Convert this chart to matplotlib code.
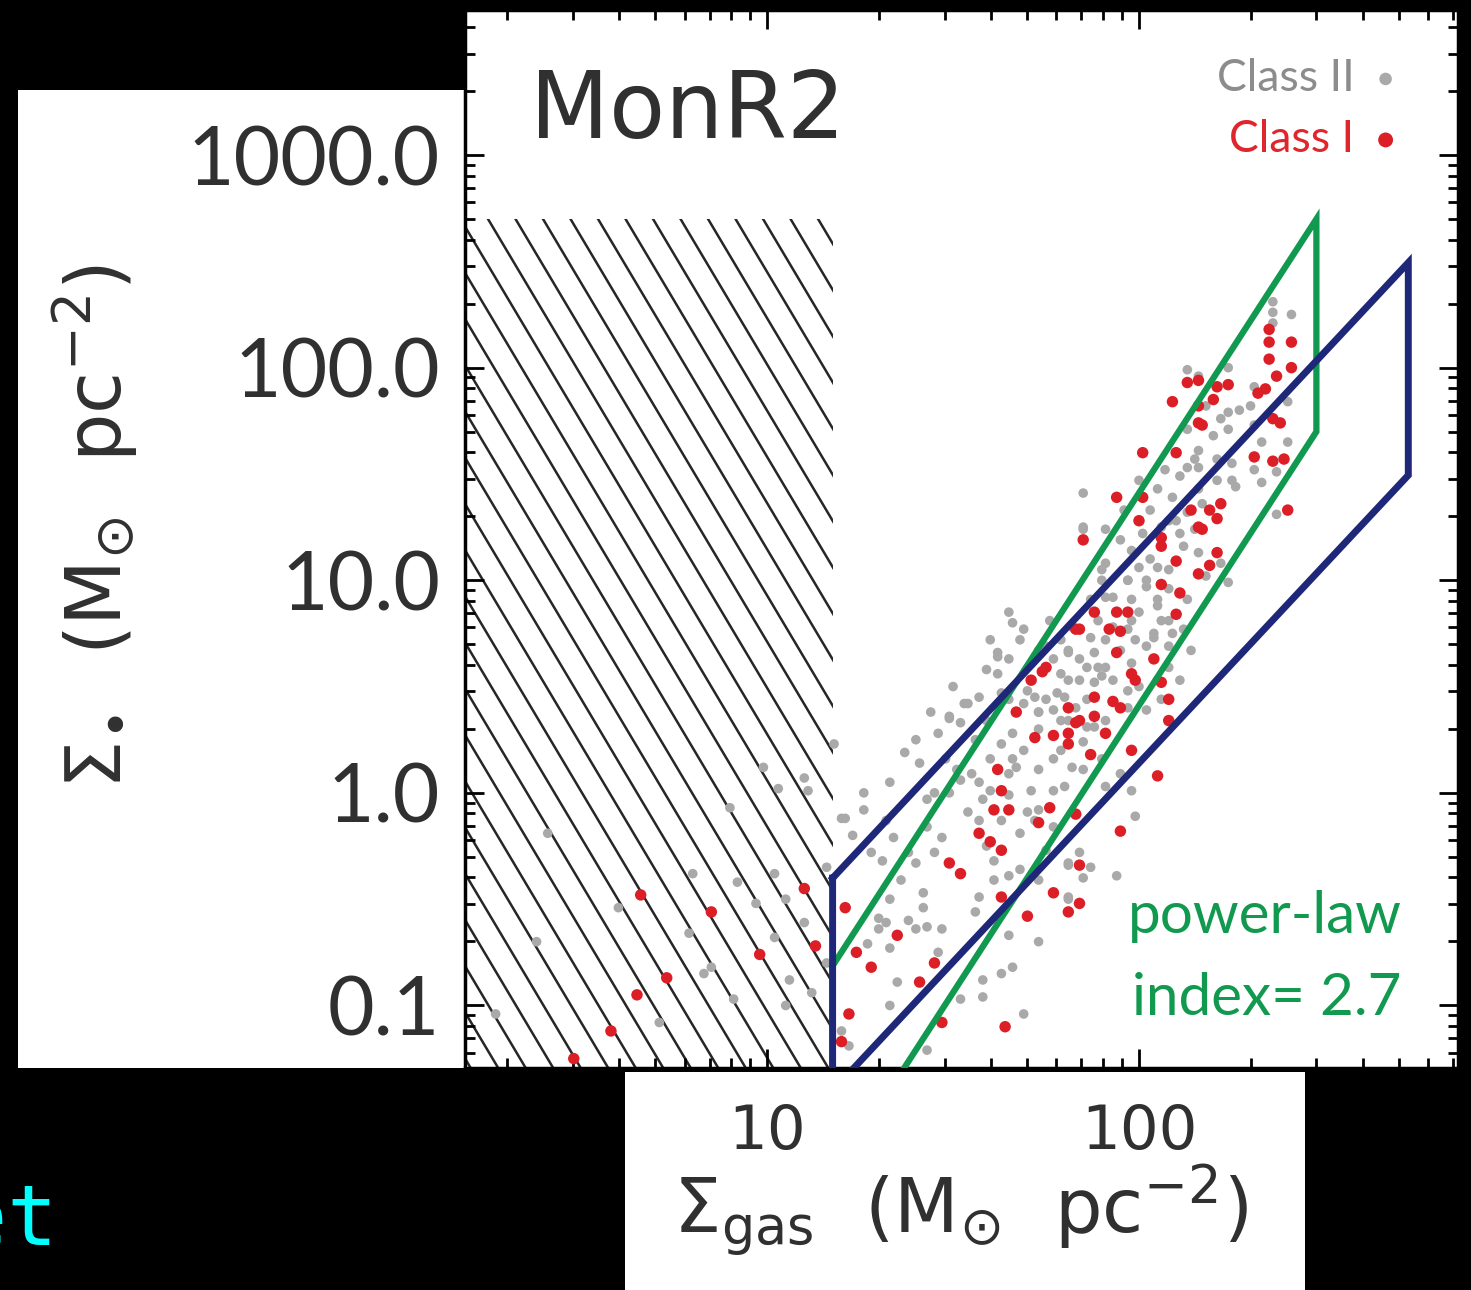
import numpy as np
import matplotlib
matplotlib.use("Agg")
import matplotlib.pyplot as plt
from matplotlib.patches import Rectangle
from matplotlib.collections import LineCollection
from matplotlib.ticker import FixedLocator, FixedFormatter, LogLocator, NullFormatter

plt.rcParams['mathtext.fontset'] = 'dejavusans'

W, H = 1471, 1290

# axis ranges and ticks
gas_lim = (1.54, 721.0)
star_lim = (0.0508, 4810.0)
xtick_vals = [10, 100]
xtick_labels = ["10", "100"]
ytick_vals = [0.1, 1, 10, 100, 1000]
ytick_labels = ["0.1", "1.0", "10.0", "100.0", "1000.0"]

# incompleteness region (hatched)
hatch_gas_max = 15.0
hatch_star_max = 500.0

# power-law bands: gas range, index, top value at right end, band width factor
green_gas = (15.0, 300.0)
green_index = 2.7
green_top = 500.0
blue_gas = (15.0, 530.0)
blue_index = 1.87
blue_top = 312.0
band_factor = 10.0

# YSO surface densities, (log10 gas, log10 star)
class2_log = [
    (1.18, 0.23), (0.99, 0.12), (1.03, 0.02), (1.10, 0.07), (1.11, 0.01), (0.90, -0.07),
    (1.20, -0.12), (0.41, -0.19), (1.16, -0.35), (1.02, -0.38), (0.80, -0.38), (0.92, -0.42),
    (1.05, -0.50), (0.97, -0.52), (0.60, -0.54), (1.10, -0.61), (0.79, -0.66), (1.02, -0.68),
    (0.38, -0.70), (0.85, -0.82), (0.83, -0.85), (1.06, -0.88), (1.12, -0.94), (0.91, -0.97),
    (1.05, -1.00), (0.27, -1.04), (0.71, -1.08), (1.16, -0.80),
    (1.65, 0.85), (1.66, 0.80), (1.69, 0.77), (1.60, 0.72), (1.62, 0.64), (1.65, 0.63),
    (1.59, 0.58), (1.50, 0.50), (1.62, 0.56), (1.57, 0.45), (1.54, 0.42), (1.44, 0.38),
    (1.49, 0.36), (1.52, 0.33), (1.46, 0.28), (1.40, 0.25), (1.37, 0.19), (1.41, 0.14),
    (1.51, 0.11), (1.55, 0.09), (1.57, 0.05), (1.33, 0.05), (1.26, 0.00), (1.45, 0.00),
    (1.49, 0.00), (1.43, -0.03), (1.26, -0.08), (1.21, -0.12), (1.54, -0.09), (1.58, -0.03),
    (1.57, -0.13), (1.32, -0.13), (1.43, -0.16), (1.23, -0.20), (1.34, -0.21), (1.47, -0.21),
    (1.28, -0.28), (1.31, -0.32), (1.38, -0.28), (1.40, -0.33), (1.45, -0.28), (1.61, -0.32),
    (1.36, -0.41), (1.61, -0.41), (1.65, -0.39), (1.42, -0.47), (1.33, -0.50), (1.42, -0.54),
    (1.57, -0.49), (1.56, -0.56), (1.30, -0.59), (1.32, -0.61), (1.38, -0.60), (1.40, -0.64),
    (1.43, -0.63), (1.47, -0.64), (1.30, -0.64), (1.65, -0.67), (1.73, -0.70), (1.27, -0.71),
    (1.33, -0.73), (1.46, -0.75), (1.63, -0.85), (1.66, -0.82), (1.35, -0.89), (1.58, -0.88),
    (1.52, -0.97), (1.58, -0.96), (1.33, -1.00), (1.69, -1.04), (1.20, -1.12), (1.22, -1.19),
    (1.43, -1.21),
    (1.69, 0.42), (1.73, 0.38), (1.77, 0.39), (1.81, 0.34), (1.66, 0.16), (1.67, 0.12),
    (1.65, 0.09), (1.70, -0.09), (1.72, -0.13), (1.77, 0.16), (1.77, 0.01), (1.81, -0.33),
    (1.81, -0.49), (1.73, -0.08), (1.68, -0.19), (1.63, -0.13), (1.59, -0.25), (1.77, -0.16),
    (1.75, 0.69), (1.77, 0.63),
    (2.36, 2.31), (2.36, 2.26), (2.41, 2.25), (2.36, 2.21), (2.13, 1.99), (2.16, 1.96),
    (2.24, 2.00), (2.31, 1.91), (2.30, 1.82), (2.24, 1.79), (2.20, 1.68), (2.24, 1.71),
    (2.40, 1.84), (2.40, 1.65), (2.33, 1.65), (2.37, 1.51), (2.31, 1.52), (2.25, 1.47),
    (2.33, 1.46), (2.26, 1.44), (2.21, 1.47), (2.16, 1.61), (2.15, 1.57), (2.13, 1.53),
    (2.11, 1.49), (2.16, 1.53), (1.85, 1.41), (2.05, 1.43), (2.09, 1.39), (2.16, 1.43),
    (2.17, 1.36), (2.13, 1.32), (2.03, 1.33), (2.08, 1.28), (2.37, 1.31), (1.85, 1.25),
    (2.01, 1.22), (2.06, 1.25), (2.11, 1.22), (1.95, 1.19), (2.12, 1.16), (2.16, 1.13),
    (1.98, 1.14), (1.90, 1.05), (2.00, 1.06), (2.05, 1.06), (2.08, 1.05), (1.97, 1.00),
    (2.02, 0.97), (2.08, 0.96), (2.24, 0.99), (1.91, 0.92), (1.87, 0.91), (1.98, 0.91),
    (2.05, 0.91), (2.13, 0.91), (2.18, 1.02), (2.22, 1.08), (2.25, 1.55), (2.22, 1.76),
    (2.18, 1.82),
    (1.85, 1.24), (1.62, 0.66), (1.53, 0.42), (1.49, 0.35), (1.88, 0.66), (1.91, 0.72),
    (1.86, 0.59), (1.81, 0.66), (1.97, 0.77), (2.00, 0.85), (2.05, 0.88), (2.04, 0.75),
    (2.09, 0.75), (1.98, 0.61), (2.02, 0.69), (2.08, 0.69), (1.88, 0.52), (1.84, 0.53),
    (1.81, 0.53), (1.78, 0.47), (1.75, 0.44), (1.72, 0.45), (1.73, 0.38), (1.86, 0.44),
    (1.93, 0.53), (2.00, 0.50), (2.05, 0.53), (2.08, 0.59), (1.97, 0.40), (2.02, 0.39),
    (1.91, 0.34), (1.86, 0.31), (1.79, 0.34), (1.73, 0.30), (2.06, 0.44), (2.02, 1.00),
    (1.97, 1.00), (1.93, 0.92), (1.91, 1.08), (1.90, 1.00), (1.93, 0.78), (1.87, 0.73),
    (1.91, 0.59), (1.79, 0.56), (1.83, 0.40), (1.68, 0.72),
    (1.98, 0.01), (1.99, -0.11), (1.84, -0.28), (1.81, -0.34), (1.87, -0.35), (1.85, -0.40),
    (1.94, -0.39), (1.81, -0.50), (1.81, 0.67), (1.84, 0.63), (1.89, 0.59), (1.90, 0.55),
    (1.80, 0.45), (1.99, 0.72), (2.04, 0.73), (1.98, 0.81), (2.06, 0.81), (2.12, 0.77),
    (1.90, 0.16), (1.85, 0.24), (1.95, 0.09), (1.91, 0.03), (1.88, 0.31), (1.82, 0.12),
    (1.80, 0.03),
    (1.63, 0.47), (1.65, 0.44), (1.70, 0.48), (1.79, 0.72), (1.82, 0.78), (1.76, 0.81),
    (1.73, 0.67), (1.95, 0.67), (1.89, 0.81), (1.97, 0.48), (1.66, 0.28), (1.63, 0.23),
    (1.60, 0.16), (1.56, 0.25), (1.69, 0.20), (1.73, 0.11), (1.79, 0.20), (1.85, 0.11),
    (1.71, 0.01), (1.65, -0.01), (1.60, 0.01), (1.75, -0.27), (1.68, -0.36), (1.73, -0.41),
    (1.52, 0.06), (1.48, 0.16), (1.59, 0.34), (2.03, 1.10), (2.10, 1.28), (2.15, 1.24),
    (2.21, 1.57), (2.27, 1.80), (2.31, 1.73), (2.13, 1.71), (2.07, 1.52), (2.00, 1.47),
    (1.96, 1.33), (1.91, 1.24), (2.08, 0.81), (2.14, 0.67), (2.11, 0.53),
]

class1_log = [
    (0.66, -0.48), (0.85, -0.56), (1.10, -0.45), (1.13, -0.72), (0.98, -0.76), (0.73, -0.87),
    (0.65, -0.95), (0.58, -1.12), (0.48, -1.25),
    (1.83, 0.77), (1.75, 0.59), (1.71, 0.53), (1.67, 0.38), (1.81, 0.40), (1.83, 0.33),
    (1.72, 0.26), (1.77, 0.27), (1.81, 0.28), (1.81, 0.23), (1.62, 0.11), (1.63, 0.01),
    (1.61, -0.08), (1.65, -0.08), (1.76, -0.07), (1.73, -0.14), (1.57, -0.19), (1.60, -0.23),
    (1.63, -0.27), (1.83, -0.10), (1.49, -0.33), (1.52, -0.38), (1.63, -0.49), (1.77, -0.47),
    (1.81, -0.56), (1.70, -0.58), (1.21, -0.54), (1.35, -0.67), (1.24, -0.75), (1.28, -0.82),
    (1.45, -0.80), (1.41, -0.89), (1.22, -1.04), (1.47, -1.08), (1.64, -1.10), (1.20, -1.17),
    (2.35, 2.18), (2.35, 2.12), (2.41, 2.12), (2.35, 2.04), (2.41, 2.00), (2.37, 1.96),
    (2.34, 1.90), (2.32, 1.88), (2.13, 1.93), (2.16, 1.94), (2.21, 1.91), (2.24, 1.92),
    (2.09, 1.84), (2.20, 1.85), (2.16, 1.82), (2.16, 1.74), (2.17, 1.73), (2.36, 1.76),
    (2.38, 1.74), (2.01, 1.60), (2.10, 1.60), (2.31, 1.58), (2.36, 1.56), (2.39, 1.57),
    (1.94, 1.39), (2.01, 1.39), (2.14, 1.33), (2.19, 1.33), (2.22, 1.36), (2.21, 1.29),
    (2.40, 1.33), (2.00, 1.28), (2.16, 1.25), (2.17, 1.24), (1.85, 1.19), (2.06, 1.20),
    (2.06, 1.16), (2.21, 1.13), (2.10, 1.09), (2.19, 1.07), (2.16, 1.03), (2.06, 0.98),
    (2.11, 0.94),
    (1.88, 0.85), (1.94, 0.85), (1.97, 0.85), (1.84, 0.77), (1.92, 0.77), (1.95, 0.76),
    (2.10, 0.84), (1.94, 0.66), (1.74, 0.57), (1.98, 0.56), (1.99, 0.53), (2.04, 0.63),
    (2.06, 0.52), (2.08, 0.44), (1.88, 0.45), (1.93, 0.43), (1.95, 0.40), (1.88, 0.36),
    (1.84, 0.34), (2.08, 0.34),
    (1.91, 0.28), (1.98, 0.20), (1.87, 0.18), (2.05, 0.08), (1.95, -0.18), (1.84, -0.34),
    (1.84, -0.52),
]

grey = '#a9a9a9'
red = '#dc1f26'
green = '#10994f'
navy = '#1f2878'
ink = '#303030'


def fig_box(x0, y0, x1, y1):
    return [x0 / W, 1 - y1 / H, (x1 - x0) / W, (y1 - y0) / H]


def band(gas, index, top, factor):
    lo, hi = gas
    t_lo = top * (lo / hi) ** index
    xs = [lo, hi, hi, lo, lo]
    ys = [t_lo, top, top / factor, t_lo / factor, t_lo]
    return xs, ys


fig = plt.figure(figsize=(W / 100, H / 100), dpi=100, facecolor='black')

# pasted white panels behind the axis labels
for box in [(18, 90, 465, 1068), (625, 1072, 1305, 1290)]:
    l, b, w, h = fig_box(*box)
    fig.patches.append(Rectangle((l, b), w, h, transform=fig.transFigure, facecolor='white',
                                 edgecolor='none', zorder=-1))

ax = fig.add_axes(fig_box(465, 10, 1458, 1068))
ax.set_facecolor('white')
ax.set_xscale('log')
ax.set_yscale('log')
ax.set_xlim(*gas_lim)
ax.set_ylim(*star_lim)

# hatched incompleteness region
top_frac = ax.transAxes.inverted().transform(ax.transData.transform((10, hatch_star_max)))[1]
slope = 1.577
segs = []
for xc in np.arange(0.0232 - 0.0277 * 30, 0.6, 0.0277):
    segs.append([(xc - (1.05 - top_frac) / slope, 1.05), (xc + (top_frac + 0.05) / slope, -0.05)])
lc = LineCollection(segs, colors='#262626', linewidths=1.8, transform=ax.transAxes, zorder=1)
ax.add_collection(lc, autolim=False)
clip = Rectangle((gas_lim[0], star_lim[0]), hatch_gas_max - gas_lim[0],
                 hatch_star_max - star_lim[0], transform=ax.transData,
                 fill=False, linewidth=0)
lc.set_clip_path(clip)

c2 = 10 ** np.array(class2_log)
c1 = 10 ** np.array(class1_log)
ax.scatter(c2[:, 0], c2[:, 1], s=48, c=grey, edgecolors='none', zorder=3, label='Class II')
ax.scatter(c1[:, 0], c1[:, 1], s=68, c=red, edgecolors='none', zorder=4, label='Class I')

gx, gy = band(green_gas, green_index, green_top, band_factor)
ax.plot(gx, gy, color=green, lw=4.5, zorder=5, solid_joinstyle='miter')
bx, by = band(blue_gas, blue_index, blue_top, band_factor)
ax.plot(bx, by, color=navy, lw=5, zorder=6, solid_joinstyle='miter')
ax.set_xlim(*gas_lim)
ax.set_ylim(*star_lim)

# ticks
ax.xaxis.set_major_locator(FixedLocator(xtick_vals))
ax.xaxis.set_major_formatter(FixedFormatter(xtick_labels))
ax.yaxis.set_major_locator(FixedLocator(ytick_vals))
ax.yaxis.set_major_formatter(FixedFormatter(ytick_labels))
for axis in (ax.xaxis, ax.yaxis):
    axis.set_minor_locator(LogLocator(base=10, subs=np.arange(2, 10), numticks=20))
    axis.set_minor_formatter(NullFormatter())
ax.tick_params(which='both', direction='in', top=True, right=True, width=2, color='black')
ax.tick_params(which='major', length=14)
ax.tick_params(which='minor', length=7)
ax.tick_params(axis='y', labelsize=58, pad=18, labelcolor=ink)
ax.tick_params(axis='x', labelsize=44, pad=25, labelcolor=ink)
for lab in ax.get_yticklabels():
    lab.set_fontfamily('Lato')
for lab in ax.get_xticklabels():
    lab.set_fontfamily('DejaVu Sans')
for sp in ax.spines.values():
    sp.set_linewidth(2.5)
    sp.set_color('black')

ax.text(0.0655, 0.946, 'MonR2', transform=ax.transAxes, fontsize=66, color=ink,
        ha='left', va='top')

leg = ax.legend(loc='upper right', bbox_to_anchor=(0.945, 0.955), markerfirst=False,
                frameon=False, prop={'family': 'Lato', 'size': 32}, handletextpad=0.3,
                labelspacing=0.45, handlelength=0.8, borderaxespad=0, borderpad=0,
                markerscale=1.3)
for txt, col in zip(leg.get_texts(), ['#8c8c8c', '#e0262d']):
    txt.set_color(col)

ax.text(0.668, 0.1276, 'power-law', transform=ax.transAxes, fontsize=42, color=green,
        family='Lato', ha='left', va='baseline')
ax.text(0.672, 0.0501, 'index= 2.7', transform=ax.transAxes, fontsize=42, color=green,
        family='Lato', ha='left', va='baseline')

fig.text(95 / W, 1 - 527 / H, r'$\Sigma_{\bullet}\ \ (\mathrm{M}_{\odot}\ \ \mathrm{pc}^{-2})$',
         rotation=90, fontsize=55, color=ink, ha='center', va='center')
fig.text(960 / W, 1 - 1210 / H, r'$\Sigma_{\mathrm{gas}}\ \ (\mathrm{M}_{\odot}\ \ \mathrm{pc}^{-2})$',
         fontsize=54, color=ink, ha='center', va='center')

fig.text(57 / W, 1 - 1245 / H, 'et', fontsize=60, color='#00ffff', family='DejaVu Sans Mono',
         ha='right', va='baseline')

fig.savefig('out.png', dpi=100, facecolor='black')
